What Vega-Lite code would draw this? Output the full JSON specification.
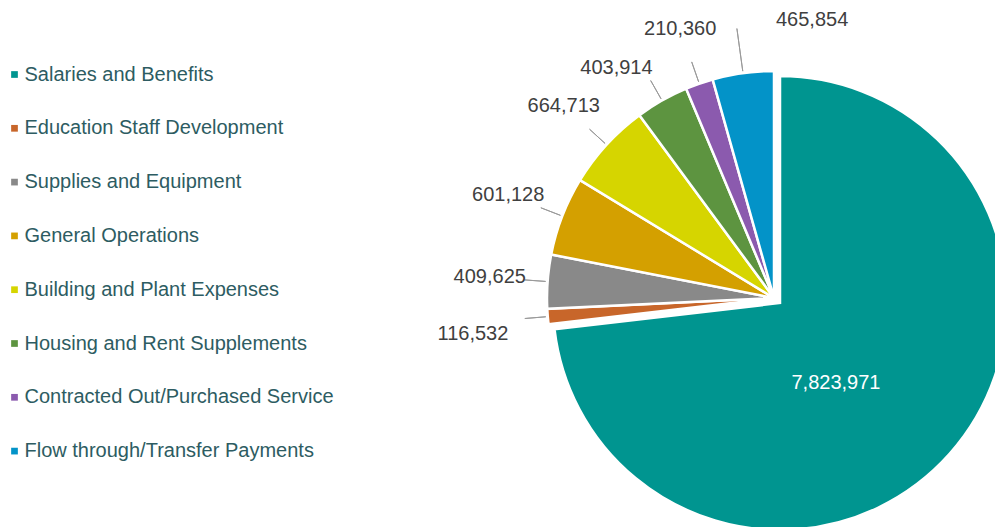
{
  "$schema": "https://vega.github.io/schema/vega-lite/v6.json",
  "width": 1548,
  "height": 596,
  "autosize": {"type": "none"},
  "padding": 0,
  "background": "white",
  "config": {"view": {"stroke": null}, "font": "Liberation Sans"},
  "data": {
    "values": [
      {"category": "Salaries and Benefits", "value": 7823971, "order": 1},
      {"category": "Education Staff Development", "value": 116532, "order": 2},
      {"category": "Supplies and Equipment", "value": 409625, "order": 3},
      {"category": "General Operations", "value": 601128, "order": 4},
      {"category": "Building and Plant Expenses", "value": 664713, "order": 5},
      {"category": "Housing and Rent Supplements", "value": 403914, "order": 6},
      {"category": "Contracted Out/Purchased Service", "value": 210360, "order": 7},
      {"category": "Flow through/Transfer Payments", "value": 465854, "order": 8}
    ]
  },
  "transform": [
    {"stack": "value", "groupby": [], "sort": [{"field": "order", "order": "ascending"}], "as": ["v0", "v1"]},
    {"calculate": "(datum.v0 + datum.v1) / 2", "as": "mid"}
  ],
  "layer": [
    {
      "transform": [{"filter": "datum.category !== 'Salaries and Benefits'"}],
      "mark": {"type": "arc", "outerRadius": 227, "stroke": "white", "strokeWidth": 2.5},
      "encoding": {
        "theta": {"field": "v0", "type": "quantitative", "scale": {"domain": [0, 10696097], "zero": true, "nice": false}},
        "theta2": {"field": "v1"},
        "fill": {
          "field": "category", "type": "nominal",
          "scale": {
            "domain": ["Salaries and Benefits", "Education Staff Development", "Supplies and Equipment", "General Operations", "Building and Plant Expenses", "Housing and Rent Supplements", "Contracted Out/Purchased Service", "Flow through/Transfer Payments"],
            "range": ["#009590", "#C8662A", "#898989", "#D4A000", "#D6D500", "#5D9440", "#8B5AAE", "#0393C8"]
          },
          "legend": {
            "title": null,
            "orient": "none",
            "legendX": 4.5,
            "legendY": 64.5,
            "padding": 0,
            "symbolType": "square",
            "symbolSize": 45,
            "symbolStrokeWidth": 0,
            "labelFontSize": 20,
            "labelFont": "Liberation Sans",
            "labelColor": "#2D5C62",
            "labelOffset": 0,
            "rowPadding": 33.8,
            "labelLimit": 400
          }
        }
      }
    },
    {
      "transform": [{"filter": "datum.category === 'Salaries and Benefits'"}],
      "mark": {"type": "arc", "outerRadius": 227, "stroke": "white", "strokeWidth": 2.5, "xOffset": 6, "yOffset": 5},
      "encoding": {
        "theta": {"field": "v0", "type": "quantitative"},
        "theta2": {"field": "v1"},
        "fill": {"field": "category", "type": "nominal"}
      }
    },
    {
      "transform": [{"filter": "datum.category !== 'Salaries and Benefits' && datum.category !== 'Flow through/Transfer Payments'"}],
      "mark": {"type": "arc", "innerRadius": 229, "outerRadius": 250, "fill": null, "stroke": "#9a9a9a", "strokeWidth": 1},
      "encoding": {
        "theta": {"field": "mid", "type": "quantitative"},
        "theta2": {"field": "mid"}
      }
    },
    {
      "transform": [{"filter": "datum.category === 'Flow through/Transfer Payments'"}],
      "mark": {"type": "arc", "innerRadius": 229, "outerRadius": 272, "fill": null, "stroke": "#9a9a9a", "strokeWidth": 1},
      "encoding": {
        "theta": {"field": "mid", "type": "quantitative"},
        "theta2": {"field": "mid"}
      }
    },
    {
      "transform": [{"filter": "indexof(['Supplies and Equipment', 'General Operations', 'Building and Plant Expenses', 'Contracted Out/Purchased Service'], datum.category) >= 0"}],
      "mark": {"type": "text", "radius": 285, "fontSize": 20, "font": "Liberation Sans", "fill": "#404040", "align": "center", "baseline": "middle"},
      "encoding": {
        "theta": {"field": "mid", "type": "quantitative"},
        "text": {"field": "value", "type": "quantitative", "format": ",d"}
      }
    },
    {
      "transform": [{"filter": "datum.category === 'Education Staff Development'"}],
      "mark": {"type": "text", "radius": 285, "fontSize": 20, "font": "Liberation Sans", "fill": "#404040", "align": "center", "baseline": "middle", "xOffset": -17, "yOffset": 13},
      "encoding": {
        "theta": {"field": "mid", "type": "quantitative"},
        "text": {"field": "value", "type": "quantitative", "format": ",d"}
      }
    },
    {
      "transform": [{"filter": "datum.category === 'Housing and Rent Supplements'"}],
      "mark": {"type": "text", "radius": 285, "fontSize": 20, "font": "Liberation Sans", "fill": "#404040", "align": "center", "baseline": "middle", "xOffset": -17, "yOffset": 18},
      "encoding": {
        "theta": {"field": "mid", "type": "quantitative"},
        "text": {"field": "value", "type": "quantitative", "format": ",d"}
      }
    },
    {
      "transform": [{"filter": "datum.category === 'Flow through/Transfer Payments'"}],
      "mark": {"type": "text", "radius": 285, "fontSize": 20, "font": "Liberation Sans", "fill": "#404040", "align": "center", "baseline": "middle", "xOffset": 77, "yOffset": 4},
      "encoding": {
        "theta": {"field": "mid", "type": "quantitative"},
        "text": {"field": "value", "type": "quantitative", "format": ",d"}
      }
    },
    {
      "transform": [{"filter": "datum.category === 'Salaries and Benefits'"}],
      "mark": {"type": "text", "radius": 95, "fontSize": 20, "font": "Liberation Sans", "fill": "white", "align": "center", "baseline": "middle", "xOffset": -9, "yOffset": 22},
      "encoding": {
        "theta": {"field": "mid", "type": "quantitative"},
        "text": {"field": "value", "type": "quantitative", "format": ",d"}
      }
    }
  ]
}
